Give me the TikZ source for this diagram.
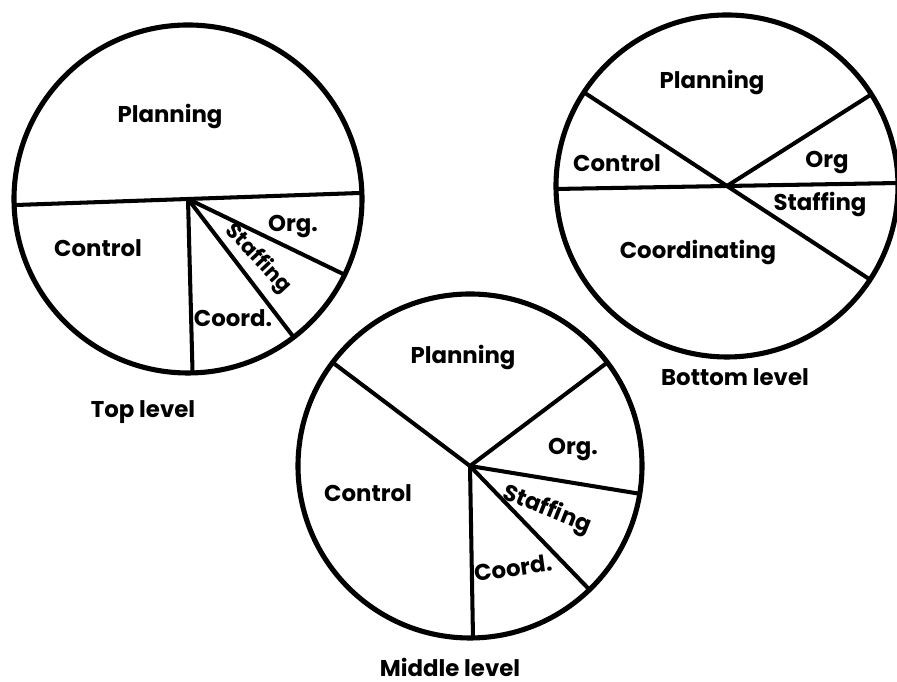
\documentclass[tikz,border=0pt]{standalone}
\usepackage{fontspec}
\setmainfont{Poppins}
\usepackage{tikz}
\usetikzlibrary{positioning}

\begin{document}
\begin{tikzpicture}[x=0.02cm, y=0.02cm,
  rim/.style={line width=2.9pt},
  spoke/.style={line width=2.3pt},
  lbl/.style={font=\fontsize{13}{15}\selectfont\bfseries, inner sep=1pt}]
 \useasboundingbox (0,0) rectangle (897,682);
 % top level
 \coordinate (tc) at (188,483);
 \draw[rim] (tc) circle (174);
 \draw[spoke] (tc) -- ++(182:174) (tc) -- ++(2:174);
 \draw[spoke] (tc) -- ++(-88.5:174);
 \draw[spoke] (tc) -- ++(-52.6:174);
 \draw[spoke] (tc) -- ++(-25.8:174);
 \node[lbl] (tplan) at (170,565) {Planning};
 \node[lbl] (tctrl) at (98,434) {Control};
 \node[lbl] (torg) at (293,455) {Org.};
 \node[lbl, font=\fontsize{12}{14}\selectfont\bfseries, rotate=-47] (tstaff) at (258,423) {Staffing};
 \node[lbl] (tcoord) at (233,364) {Coord.};
 \node[lbl] (ttitle) at (143,270) {Top level};
 % middle level
 \coordinate (mc) at (470,216);
 \draw[rim] (mc) circle (172);
 \draw[spoke] (mc) -- ++(143:172);
 \draw[spoke] (mc) -- ++(37:172);
 \draw[spoke] (mc) -- ++(-9.3:172);
 \draw[spoke] (mc) -- ++(-46:172);
 \draw[spoke] (mc) -- ++(-89:172);
 \node[lbl] (mplan) at (463,324) {Planning};
 \node[lbl] (morg) at (573,232) {Org.};
 \node[lbl] (mctrl) at (368,189) {Control};
 \node[lbl, rotate=-22] (mstaff) at (547,172) {Staffing};
 \node[lbl, rotate=8] (mcoord) at (513,114) {Coord.};
 \node[lbl] (mtitle) at (450,15) {Middle level};
 % bottom level
 \coordinate (bc) at (727,496);
 \draw[rim] (bc) circle (171);
 \draw[spoke] (bc) -- ++(146.8:171) (bc) -- ++(-33.2:171);
 \draw[spoke] (bc) -- ++(181:171) (bc) -- ++(1:171);
 \draw[spoke] (bc) -- ++(32.4:171);
 \node[lbl] (bplan) at (712,599) {Planning};
 \node[lbl] (bctrl) at (617,519) {Control};
 \node[lbl] (borg) at (827,519) {Org};
 \node[lbl] (bstaff) at (820,477) {Staffing};
 \node[lbl] (bcoord) at (698,429) {Coordinating};
 \node[lbl] (btitle) at (735,305) {Bottom level};
\end{tikzpicture}
\end{document}
